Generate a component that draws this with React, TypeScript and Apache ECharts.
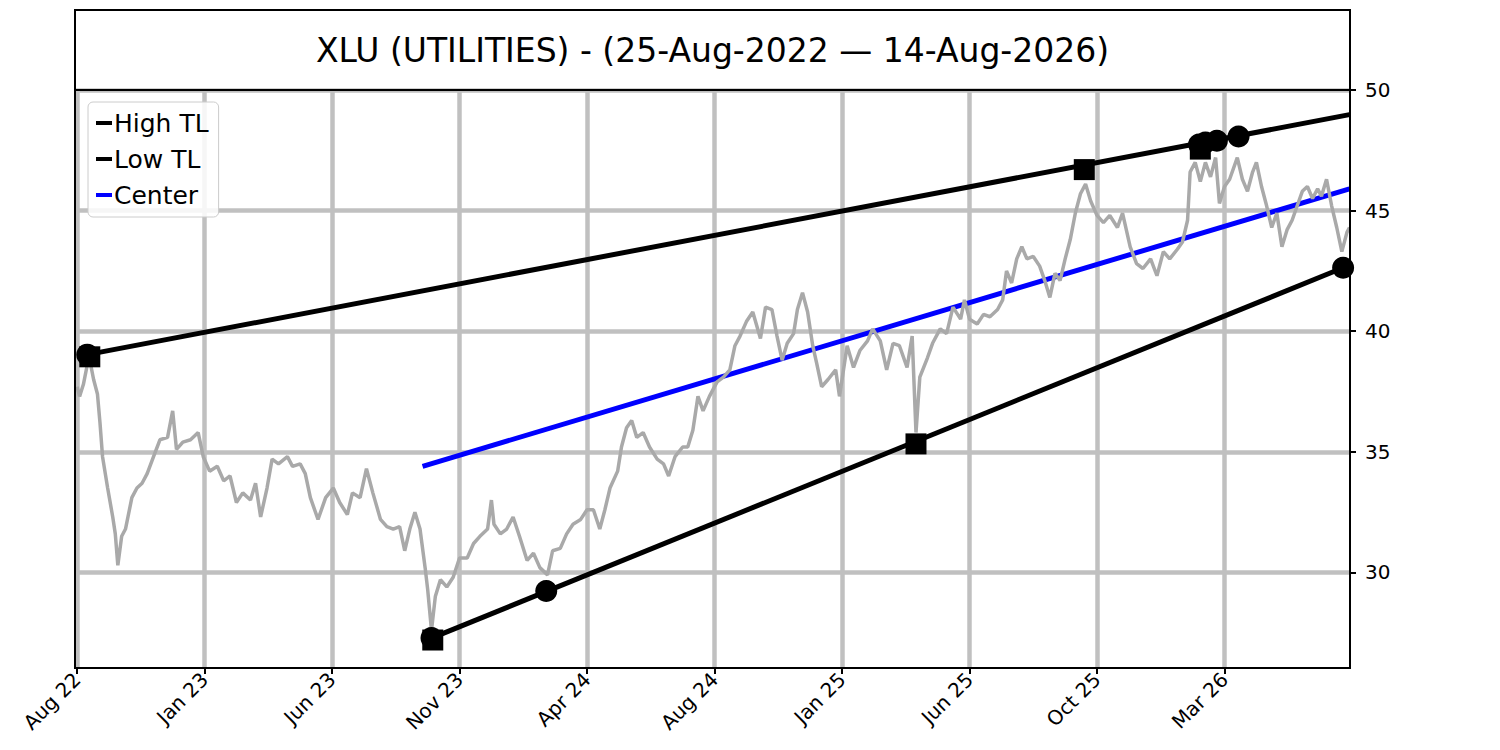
import React, { useEffect, useRef } from "react";
import * as echarts from "echarts";

const TITLE = "XLU (UTILITIES) - (25-Aug-2022 — 14-Aug-2026)";
const FONT = "DejaVu Sans";

const tickIdx = [0, 100, 200, 300, 400, 500, 600, 700, 800, 900];
const tickLabels = ["Aug 22", "Jan 23", "Jun 23", "Nov 23", "Apr 24", "Aug 24", "Jan 25", "Jun 25", "Oct 25", "Mar 26"];
const yTicks = [30, 35, 40, 45, 50];

const priceIdx = [
  0, 2, 5, 8, 10, 13, 16, 18, 20, 24, 28, 30, 32, 35, 38, 43, 47, 51, 55, 60,
  65, 71, 75, 78, 83, 89, 95, 99, 104, 110, 115, 120, 125, 130, 136, 140, 144, 149, 153, 158,
  165, 169, 175, 179, 183, 189, 195, 201, 206, 212, 216, 222, 227, 232, 238, 243, 248, 253, 257, 261,
  265, 269, 273, 275, 278, 281, 285, 290, 295, 300, 306, 311, 316, 322, 325, 327, 332, 337, 342, 347,
  353, 358, 363, 369, 373, 379, 384, 389, 395, 400, 405, 410, 414, 418, 424, 427, 431, 435, 439, 444,
  449, 455, 460, 464, 469, 475, 479, 483, 487, 491, 496, 502, 507, 512, 516, 520, 525, 530, 536, 540,
  545, 549, 553, 557, 562, 565, 569, 573, 577, 580, 584, 589, 595, 598, 604, 609, 614, 620, 624, 630,
  635, 640, 645, 651, 655, 658, 661, 667, 671, 677, 682, 687, 693, 696, 700, 706, 711, 716, 722, 726,
  729, 733, 737, 741, 745, 750, 755, 759, 763, 767, 771, 775, 779, 783, 787, 791, 795, 800, 805, 810,
  816, 820, 826, 831, 836, 842, 847, 852, 857, 863, 867, 871, 873, 877, 881, 885, 889, 893, 896, 900,
  904, 910, 914, 918, 922, 925, 929, 933, 937, 941, 945, 949, 953, 957, 961, 965, 969, 973, 976, 980,
  984, 988, 992, 996, 998,
];
const priceVal = [
  37.7, 37.3, 37.8, 38.6, 38.8, 38.0, 37.4, 36.2, 34.8, 33.5, 32.3, 31.6, 30.3, 31.5, 31.8, 33.1, 33.5, 33.7, 34.1, 34.8,
  35.5, 35.6, 36.7, 35.1, 35.4, 35.5, 35.8, 34.8, 34.2, 34.4, 33.8, 34.0, 32.9, 33.3, 33.0, 33.7, 32.3, 33.5, 34.7, 34.5,
  34.8, 34.4, 34.5, 34.1, 33.1, 32.2, 33.1, 33.5, 32.9, 32.4, 33.3, 33.1, 34.3, 33.3, 32.2, 31.9, 31.8, 31.9, 30.9, 31.8,
  32.5, 31.8, 30.2, 29.3, 27.6, 29.0, 29.7, 29.4, 29.8, 30.6, 30.6, 31.2, 31.5, 31.8, 33.0, 32.0, 31.6, 31.8, 32.3, 31.5,
  30.5, 30.8, 30.2, 29.9, 30.9, 31.0, 31.6, 32.0, 32.2, 32.6, 32.6, 31.8, 32.6, 33.5, 34.2, 35.2, 36.0, 36.3, 35.6, 35.8,
  35.2, 34.7, 34.5, 34.0, 34.8, 35.2, 35.2, 35.9, 37.3, 36.7, 37.3, 37.9, 38.1, 38.4, 39.4, 39.8, 40.4, 40.8, 39.7, 41.0,
  40.9, 39.8, 38.8, 39.5, 39.9, 40.9, 41.6, 40.8, 39.4, 38.7, 37.7, 38.0, 38.4, 37.3, 39.4, 38.5, 39.2, 39.6, 40.1, 39.6,
  38.4, 39.5, 39.4, 38.5, 39.8, 35.8, 38.1, 38.9, 39.5, 40.1, 39.9, 41.0, 40.5, 41.3, 40.5, 40.3, 40.7, 40.6, 40.9, 41.3,
  42.5, 42.0, 43.0, 43.5, 43.0, 43.1, 42.7, 42.1, 41.4, 42.4, 42.1, 43.0, 43.8, 44.9, 45.7, 46.1, 45.4, 44.8, 44.5, 44.8,
  44.3, 44.9, 43.5, 42.8, 42.6, 43.0, 42.3, 43.3, 43.0, 43.4, 43.7, 44.6, 46.6, 47.0, 46.2, 47.0, 46.4, 47.2, 45.3, 46.0,
  46.3, 47.2, 46.3, 45.8, 46.6, 47.0, 46.0, 45.2, 44.3, 44.9, 43.5, 44.2, 44.6, 45.2, 45.8, 46.0, 45.5, 45.9, 45.6, 46.3,
  45.2, 44.3, 43.3, 44.1, 44.3,
];

const highTL = [[8, 39.03], [998, 48.98]];
const lowTL = [[278, 27.28], [993, 42.63]];
const centerTL = [[271, 34.4], [998, 45.9]];
const pivotCircles = [[8, 39.03], [278, 27.28], [368, 29.23], [880, 47.74], [885, 47.82], [894, 47.9], [911, 48.07], [993, 42.63]];
const pivotSquares = [[10, 38.94], [279, 27.2], [658, 35.33], [790, 46.7], [881, 47.55]];

export default function App() {
  const ref = useRef<HTMLDivElement | null>(null);

  useEffect(() => {
    if (!ref.current) return;
    const chart = echarts.init(ref.current, null, { renderer: "svg" });
    const price = priceIdx.map((x, k) => [x, priceVal[k]]);
    const gridColor = "#c0c0c0";

    chart.setOption({
      animation: false,
      backgroundColor: "#ffffff",
      textStyle: { fontFamily: FONT },
      grid: { left: 75, top: 90, width: 1275, height: 578, containLabel: false },
      legend: {
        data: ["High TL", "Low TL", "Center"],
        orient: "vertical",
        left: 88,
        top: 102,
        padding: [7, 10, 8, 8],
        itemGap: 8,
        itemWidth: 16,
        itemHeight: 4,
        icon: "rect",
        selectedMode: false,
        borderColor: "#cccccc",
        borderWidth: 1,
        borderRadius: 5,
        backgroundColor: "rgba(255,255,255,0.85)",
        z: 20,
        textStyle: { fontSize: 25, fontFamily: FONT, color: "#000", lineHeight: 28, padding: [0, 0, 0, -3] },
      },
      xAxis: {
        type: "value",
        min: -1.6,
        max: 998.4,
        axisLine: { show: true, onZero: false, lineStyle: { color: "#000", width: 2 } },
        axisTick: { show: true, customValues: tickIdx, length: 6, lineStyle: { color: "#000", width: 2 } },
        axisLabel: {
          customValues: tickIdx,
          formatter: (v: number) => {
            const k = tickIdx.indexOf(Math.round(v));
            return k >= 0 ? tickLabels[k] : "";
          },
          rotate: 45,
          fontSize: 20,
          fontFamily: FONT,
          color: "#000",
          margin: 8,
        },
        splitLine: { show: true, lineStyle: { color: gridColor, width: 4.5 } },
      },
      yAxis: {
        type: "value",
        position: "right",
        min: 26.04,
        max: 50,
        axisLine: { show: true, onZero: false, lineStyle: { color: "#000", width: 2 } },
        axisTick: { show: true, customValues: yTicks, length: 6, lineStyle: { color: "#000", width: 2 } },
        axisLabel: { customValues: yTicks, fontSize: 20, fontFamily: FONT, color: "#000", margin: 15 },
        splitLine: { show: true, lineStyle: { color: gridColor, width: 4.5 } },
      },
      graphic: [
        {
          type: "rect",
          z: 100,
          silent: true,
          shape: { x: 75, y: 10, width: 1275, height: 80 },
          style: { fill: "none", stroke: "#000", lineWidth: 2 },
        },
        {
          type: "rect",
          z: 100,
          silent: true,
          shape: { x: 75, y: 90, width: 1275, height: 578 },
          style: { fill: "none", stroke: "#000", lineWidth: 2 },
        },
        {
          type: "text",
          z: 100,
          x: 712.5,
          y: 50,
          style: {
            text: TITLE,
            fontSize: 33,
            fontFamily: FONT,
            fill: "#000",
            align: "center",
            verticalAlign: "middle",
            textAlign: "center",
            textVerticalAlign: "middle",
          },
        },
      ],
      series: [
        {
          name: "High TL",
          type: "line",
          data: highTL,
          showSymbol: false,
          symbol: "none",
          color: "#000",
          lineStyle: { color: "#000", width: 5 },
          z: 3,
        },
        {
          name: "Low TL",
          type: "line",
          data: lowTL,
          showSymbol: false,
          symbol: "none",
          color: "#000",
          lineStyle: { color: "#000", width: 5 },
          z: 3,
        },
        {
          name: "Center",
          type: "line",
          data: centerTL,
          showSymbol: false,
          symbol: "none",
          color: "#0000ff",
          lineStyle: { color: "#0000ff", width: 5 },
          z: 3,
        },
        {
          name: "Price",
          type: "line",
          data: price,
          showSymbol: false,
          symbol: "none",
          color: "#a9a9a9",
          lineStyle: { color: "#a9a9a9", width: 3.5 },
          z: 4,
        },
        {
          name: "Pivot",
          type: "scatter",
          data: pivotCircles,
          symbol: "circle",
          symbolSize: 22,
          itemStyle: { color: "#000", opacity: 1 },
          z: 6,
        },
        {
          name: "Extreme",
          type: "scatter",
          data: pivotSquares,
          symbol: "rect",
          symbolSize: 21,
          itemStyle: { color: "#000", opacity: 1 },
          z: 6,
        },
      ],
    });

    return () => chart.dispose();
  }, []);

  return <div ref={ref} style={{ position: "fixed", left: 0, top: 0, width: 1500, height: 750 }} />;
}
